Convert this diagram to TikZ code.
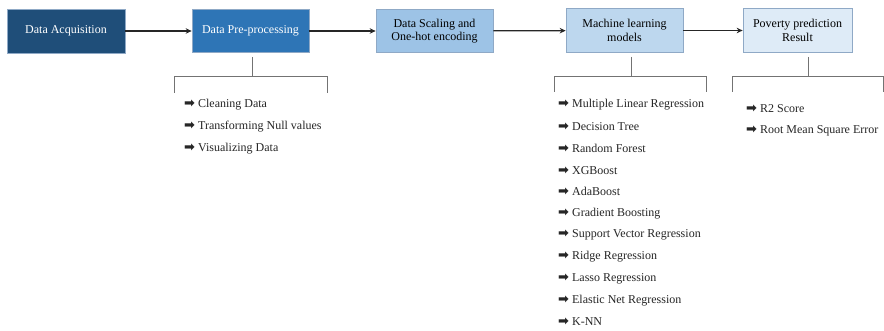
\documentclass[tikz,border=0pt]{standalone}
\usepackage{fontspec}
\setmainfont{Liberation Serif}
\newfontfamily\symfont{DejaVu Sans}
\usepackage{tikz}
\usetikzlibrary{arrows.meta,positioning}
\definecolor{bxdam}{HTML}{1F4E79}
\definecolor{bxvua}{HTML}{2E75B6}
\definecolor{bxnhat}{HTML}{9DC3E6}
\definecolor{bxnhat2}{HTML}{BDD7EE}
\definecolor{bxnhat3}{HTML}{DEEBF7}
\definecolor{vienhop}{HTML}{8FA9C6}
\def\mauvien{vienhop}
\def\muiten{{\symfont\bfseries\fontsize{13}{14}\selectfont ➡}\hspace{3pt}}

\begin{document}
\begin{tikzpicture}[x=1pt,y=-1pt,font=\fontsize{12}{13.5}\selectfont]
		\tikzstyle{stepbox} = [draw=\mauvien,line width=.7pt,minimum width=117pt,minimum height=43pt,align=center,inner sep=2pt]
		\tikzstyle{flowline} = [-{Stealth[length=6pt,width=5.5pt]},line width=1.2pt,black!85]
		\tikzstyle{bracketline} = [draw=black!55,line width=.9pt]
		\tikzstyle{itemtext} = [anchor=west,inner sep=0pt,text=black!85]
		\useasboundingbox[fill=white] (0,0) rectangle (884,331);
		% the five stages
		\node[stepbox,fill=bxdam,text=white,minimum width=118pt,minimum height=44pt] (acq) at (66,31) {Data Acquisition};
		\node[stepbox,fill=bxvua,text=white] (pre) at (250.5,31) {Data Pre-processing};
		\node[stepbox,fill=bxnhat] (scale) at (434.5,31) {Data Scaling and\\One-hot encoding};
		\node[stepbox,fill=bxnhat2,minimum height=44pt] (model) at (624.5,30.5) {Machine learning\\models};
		\node[stepbox,fill=bxnhat3,minimum width=109pt,minimum height=44pt] (res) at (797.5,30.5) {Poverty prediction\\Result};
		\draw[flowline] (acq)--(pre);
		\draw[flowline] (pre)--(scale);
		\draw[flowline] (scale)--(model);
		\draw[flowline] (model)--(res);
		% brackets
		\coordinate (preT) at (252,57); \coordinate (preL) at (174,93); \coordinate (preR) at (327,93);
		\coordinate (modT) at (631,57); \coordinate (modL) at (554,92); \coordinate (modR) at (706,92);
		\coordinate (resT) at (808,57); \coordinate (resL) at (732,92); \coordinate (resR) at (883,92);
		\draw[bracketline] (preT)--++(0,19) (preL)--++(0,-17)-|(preR);
		\draw[bracketline] (modT)--++(0,19) (modL)--++(0,-16)-|(modR);
		\draw[bracketline] (resT)--++(0,19) (resL)--++(0,-16)-|(resR);
		% lists
		\foreach \t [count=\i] in {Cleaning Data,Transforming Null values,Visualizing Data}
			\node[itemtext] (pre\i) at (184,{105+21.6*(\i-1)}) {\muiten\t};
		\foreach \t [count=\i] in {Multiple Linear Regression,Decision Tree,Random Forest,XGBoost,AdaBoost,Gradient Boosting,Support Vector Regression,Ridge Regression,Lasso Regression,Elastic Net Regression,K-NN}
			\node[itemtext] (mod\i) at (558,{105+21.7*(\i-1)}) {\muiten\t};
		\foreach \t [count=\i] in {R2 Score,Root Mean Square Error}
			\node[itemtext] (res\i) at (746,{109+21.7*(\i-1)}) {\muiten\t};
	\end{tikzpicture}
\end{document}
